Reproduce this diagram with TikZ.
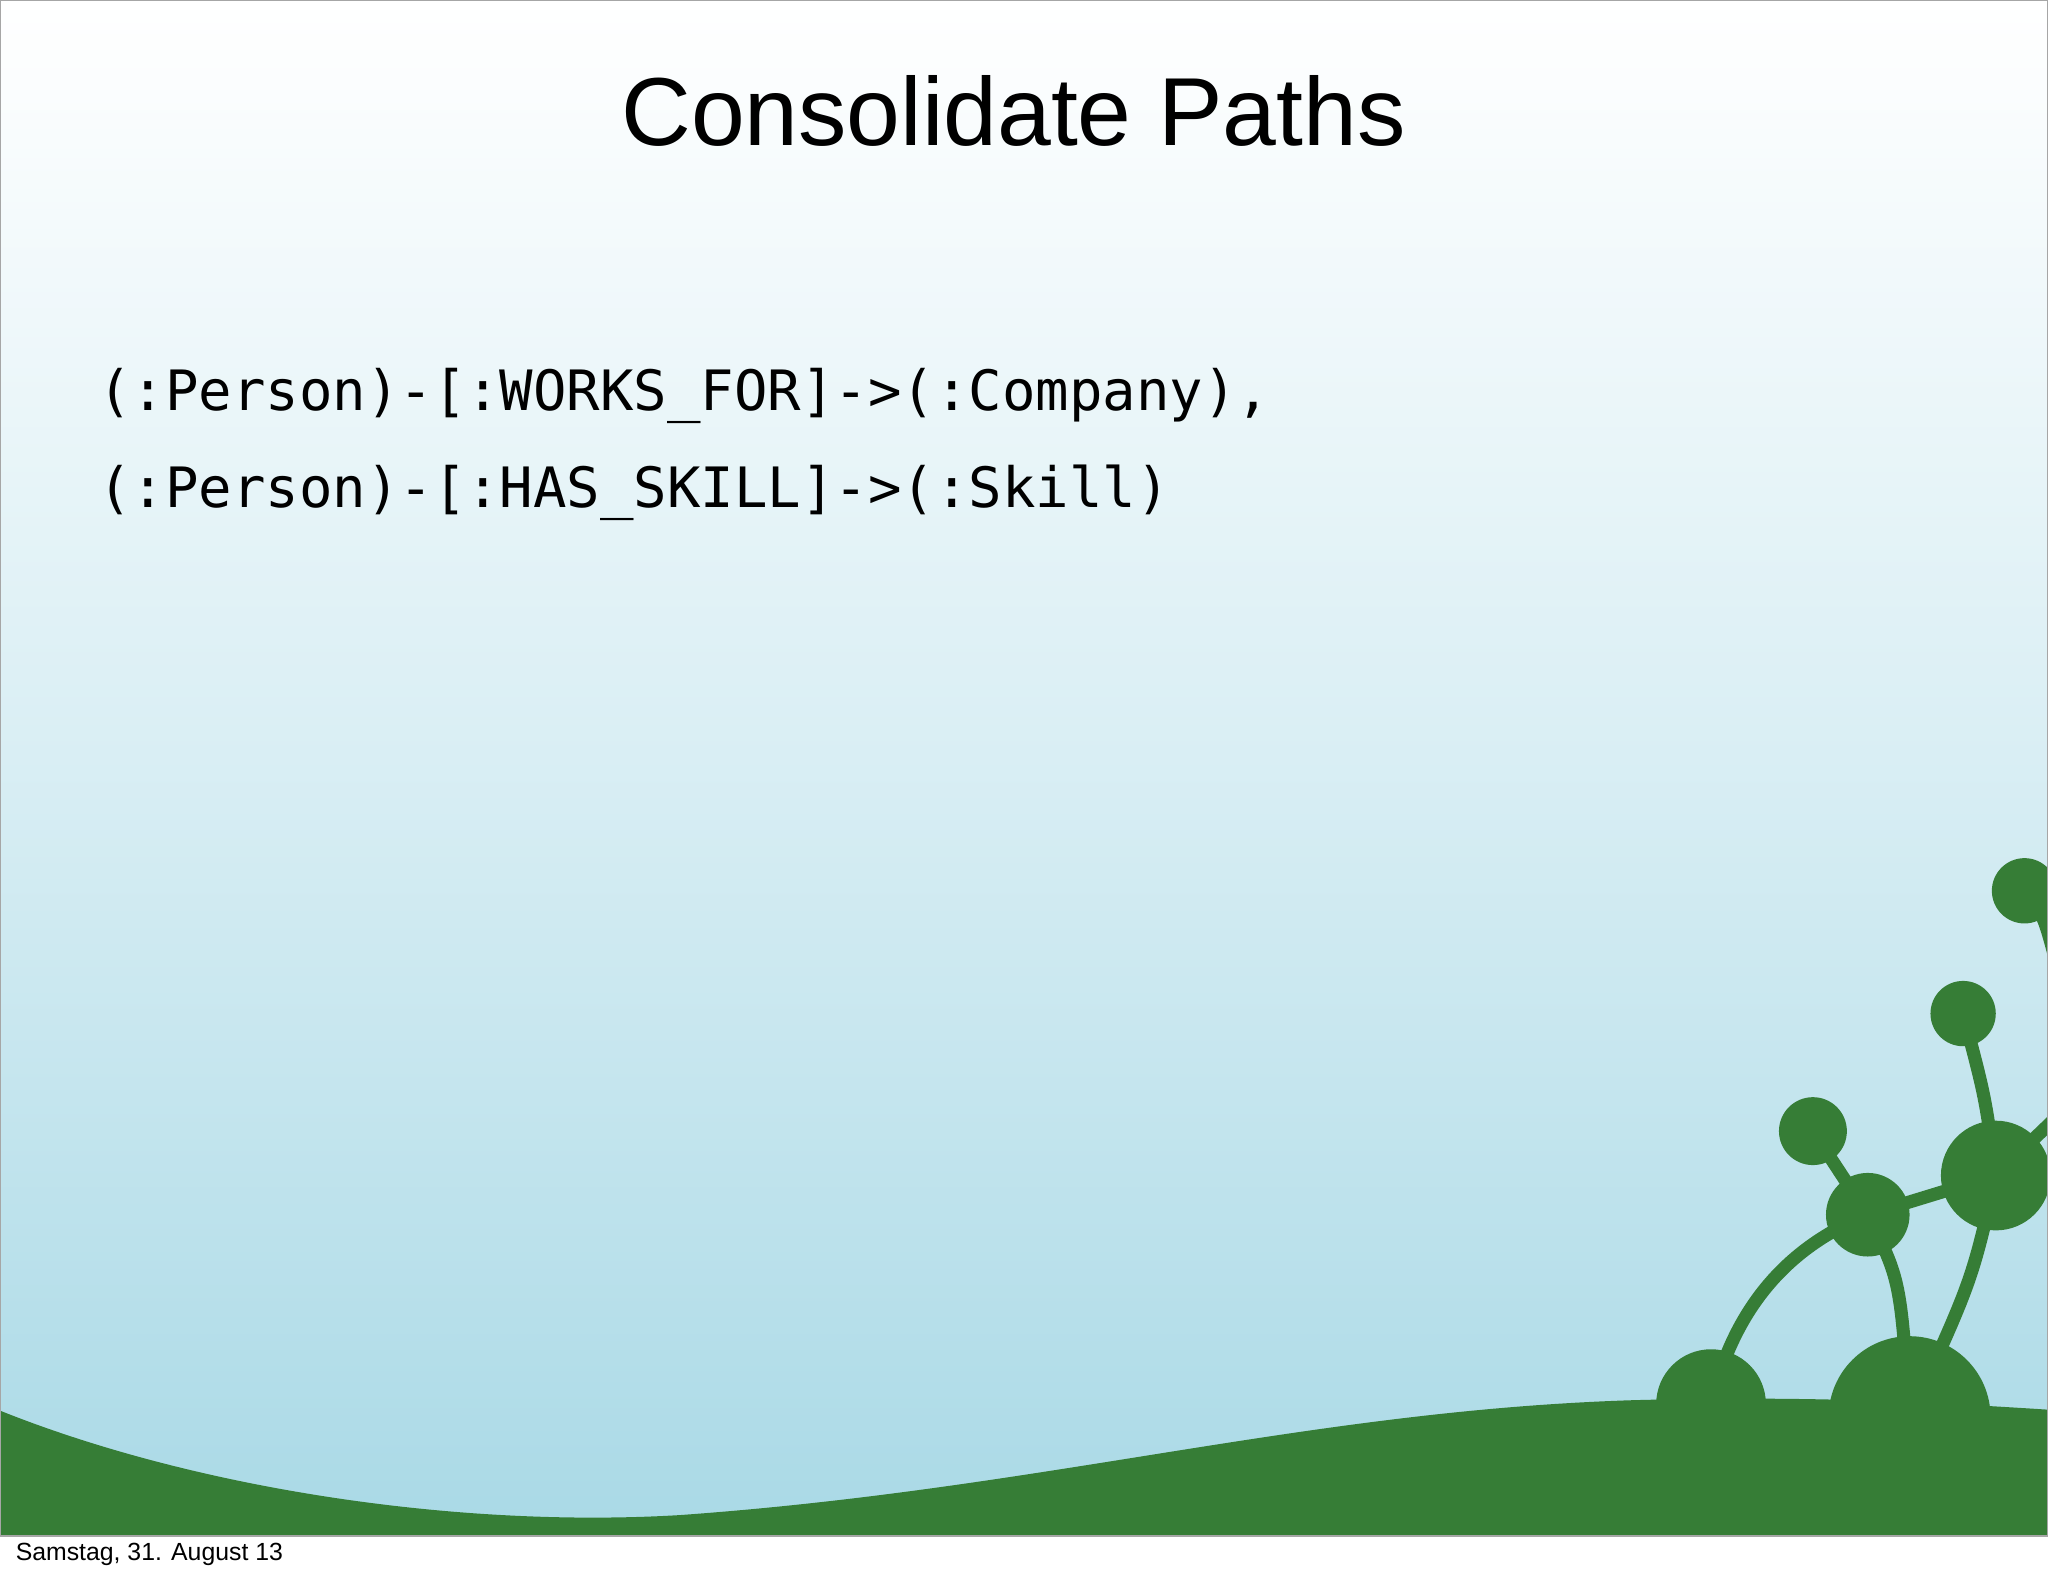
\documentclass[tikz,border=0pt]{standalone}
\usepackage{fontspec}
\setmainfont{Liberation Sans}
\newfontfamily\codefont{DejaVu Sans Mono}
\definecolor{grn}{HTML}{367D36}
\definecolor{sky}{HTML}{A9D9E6}
\tikzset{stem/.style={draw=grn,line width=5pt,line cap=round},
  ball/.style={circle,fill=grn,inner sep=0pt}}
\begin{document}
\begin{tikzpicture}[x=0.5pt,y=-0.5pt]
\useasboundingbox (0,0) rectangle (1568,1207);
\fill[white] (0,0) rectangle (1568,1207);
\shade[top color=white,bottom color=sky,middle color=sky!45] (0,0) rectangle (1568,1176);
\begin{scope}
\clip (0,0) rectangle (1568,1176);
\fill[grn] (0,1080) .. controls (150,1140) and (350,1170) .. (520,1160)
  .. controls (800,1140) and (1000,1080) .. (1250,1072)
  .. controls (1400,1068) and (1500,1075) .. (1580,1080) -- (1580,1180) -- (0,1180) -- cycle;
\node[ball,minimum size=42pt] (b1) at (1310,1075) {};
\node[ball,minimum size=62pt] (b2) at (1462,1085) {};
\node[ball,minimum size=32pt] (b3) at (1430,930) {};
\node[ball,minimum size=26pt] (b4) at (1388,866) {};
\node[ball,minimum size=42pt] (b5) at (1528,900) {};
\node[ball,minimum size=25pt] (b6) at (1503,776) {};
\node[ball,minimum size=25pt] (b7) at (1550,682) {};
\coordinate (e1) at (1580,850);
\coordinate (e2) at (1580,760);
\draw[stem] (b1.center) .. controls (1330,990) and (1380,950) .. (b3.center);
\draw[stem] (b3.center) -- (b4.center);
\draw[stem] (b3.center) .. controls (1455,980) .. (b2.center);
\draw[stem] (b3.center) -- (b5.center);
\draw[stem] (b5.center) .. controls (1520,840) .. (b6.center);
\draw[stem] (b5.center) .. controls (1510,980) .. (b2.center);
\draw[stem] (b5.center) -- (e1);
\draw[stem] (b7.center) .. controls (1565,700) .. (e2);
\end{scope}
\draw[gray!70,line width=0.6pt] (0,0) rectangle (1568,1176);
\node (title) at (776,85) {\fontsize{37}{44}\selectfont Consolidate Paths};
\node[anchor=west] (l1) at (68,303) {\codefont\fontsize{21.3}{26}\selectfont (:Person)-[:WORKS\_FOR]->(:Company),};
\node[anchor=west] (l2) at (68,377) {\codefont\fontsize{21.3}{26}\selectfont (:Person)-[:HAS\_SKILL]->(:Skill)};
\node[anchor=west] (foot) at (5,1190) {\fontsize{9.5}{11}\selectfont Samstag, 31. August 13};
\end{tikzpicture}
\end{document}
